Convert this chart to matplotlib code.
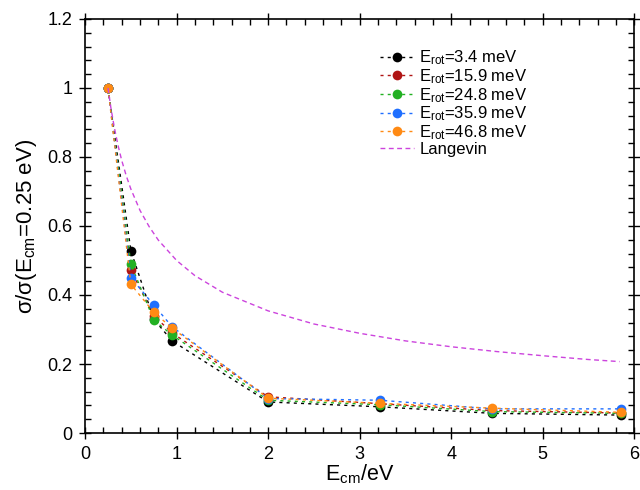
import matplotlib
matplotlib.use("Agg")
import matplotlib.pyplot as plt
from matplotlib.ticker import MultipleLocator, FormatStrFormatter

plt.rcParams['font.family'] = ['Liberation Sans', 'DejaVu Sans']
plt.rcParams['mathtext.fontset'] = 'custom'
plt.rcParams['mathtext.rm'] = 'Liberation Sans'
plt.rcParams['mathtext.it'] = 'Liberation Sans:italic'

# Energias de colisão (eV)
e_cm = [0.25, 0.5, 0.75, 0.95, 2.0, 3.22, 4.45, 5.85]

# Seções de choque normalizadas para cada energia rotacional
e_rot_labels = ["3.4", "15.9", "24.8", "35.9", "46.8"]
s_3_4 = [1.0, 0.528, 0.33, 0.267, 0.09, 0.076, 0.057, 0.052]
s_15_9 = [1.0, 0.472, 0.34, 0.29, 0.105, 0.085, 0.065, 0.058]
s_24_8 = [1.0, 0.489, 0.328, 0.284, 0.095, 0.082, 0.062, 0.057]
s_35_9 = [1.0, 0.45, 0.371, 0.308, 0.1, 0.095, 0.07, 0.07]
s_46_8 = [1.0, 0.431, 0.35, 0.304, 0.101, 0.086, 0.072, 0.06]
series = [s_3_4, s_15_9, s_24_8, s_35_9, s_46_8]
cores = ["#000000", "#b01515", "#22b022", "#1f6fff", "#ff8a14"]

# Curva de Langevin
lang_x = [0.25, 0.28, 0.32, 0.36, 0.4, 0.45, 0.5, 0.6, 0.7, 0.8, 1.0, 1.2,
          1.5, 2.0, 2.5, 3.0, 3.5, 4.0, 4.5, 5.0, 5.5, 5.84]
lang_y = [1.0, 0.945, 0.884, 0.833, 0.79, 0.745, 0.707, 0.645, 0.598, 0.559,
          0.5, 0.456, 0.408, 0.354, 0.316, 0.289, 0.267, 0.25, 0.236, 0.224,
          0.213, 0.207]

fig = plt.figure(figsize=(6.4, 4.9), dpi=100)
ax = fig.add_axes([0.133, 0.1163, 0.858, 0.845])

for vals, cor, lab in zip(series, cores, e_rot_labels):
    ax.plot(e_cm, vals, linestyle=(0, (2.2, 3)), linewidth=1.0, color=cor,
            marker='o', markersize=7, markeredgewidth=0,
            label=r"E$_{\rm rot}$=" + lab + " meV")

ax.plot(lang_x, lang_y, linestyle=(0, (3.5, 2.5)), linewidth=1.0,
        color="#cc44dd", label="Langevin")

ax.set_xlim(0, 6)
ax.set_ylim(0, 1.2)
ax.xaxis.set_major_locator(MultipleLocator(1))
ax.xaxis.set_minor_locator(MultipleLocator(0.2))
ax.yaxis.set_major_locator(MultipleLocator(0.2))
ax.yaxis.set_minor_locator(MultipleLocator(0.04))
ax.yaxis.set_major_formatter(FormatStrFormatter('%g'))
ax.tick_params(which='major', direction='inout', length=8, width=1,
               top=True, right=True, labelsize=13, pad=5)
ax.tick_params(which='minor', direction='in', length=4, width=1,
               top=True, right=True)
for s in ax.spines.values():
    s.set_linewidth(1.2)

ax.set_xlabel(r"E$_{\rm cm}$/eV", fontsize=15.5, labelpad=0)
ax.set_ylabel(r"σ/σ(E$_{\rm cm}$=0.25 eV)", fontsize=16, labelpad=6)

ax.legend(loc='upper left', bbox_to_anchor=(0.51, 0.965), frameon=False,
          fontsize=12, handlelength=2.0, handletextpad=0.35,
          labelspacing=0.0)

fig.savefig("out.png", dpi=100)
